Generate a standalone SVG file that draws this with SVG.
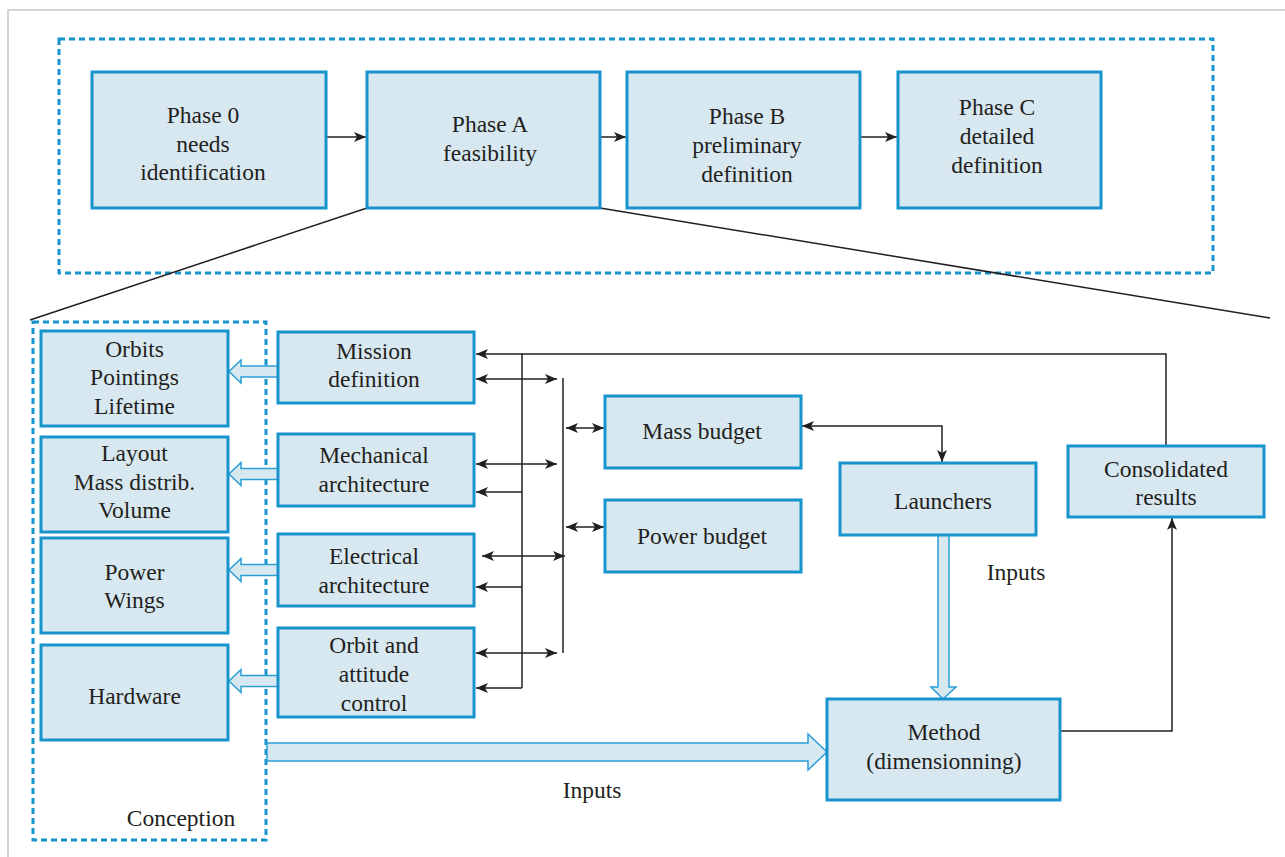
<svg xmlns="http://www.w3.org/2000/svg" width="1285" height="857" viewBox="0 0 1285 857">
<style>
.box{fill:#d8e8f1;stroke:#1794cc;stroke-width:3}
.dash{fill:none;stroke:#1794cc;stroke-width:3;stroke-dasharray:6 4}
.t{font-family:"Liberation Serif",serif;font-size:23.5px;fill:#231f20;text-anchor:middle}
.c{fill:none;stroke:#231f20;stroke-width:1.5}
.ha{fill:#d8e8f1;stroke:#2a9fd6;stroke-width:1.5}
</style>
<defs>
<marker id="ah" viewBox="0 0 12 10" refX="12" refY="5" markerWidth="12" markerHeight="10" markerUnits="userSpaceOnUse" orient="auto-start-reverse">
<path d="M0,0 L12,5 L0,10 L3,5 z" fill="#231f20"/>
</marker>
</defs>
<rect x="8" y="10" width="1290" height="860" fill="#ffffff" stroke="#c8c8c8" stroke-width="1.5"/>
<rect class="dash" x="59" y="39" width="1154" height="234"/>
<rect class="dash" x="33" y="322" width="233" height="518"/>

<g id="connectors">
<line class="c" x1="367" y1="208" x2="30" y2="320"/>
<line class="c" x1="600" y1="208" x2="1270" y2="318"/>
<line class="c" x1="326" y1="137" x2="366" y2="137" marker-end="url(#ah)"/>
<line class="c" x1="600" y1="137" x2="626" y2="137" marker-end="url(#ah)"/>
<line class="c" x1="860" y1="137" x2="897" y2="137" marker-end="url(#ah)"/>
<path class="c" d="M1166,446 V354 H476" marker-end="url(#ah)"/>
<line class="c" x1="522" y1="354" x2="522" y2="688"/>
<line class="c" x1="563" y1="378" x2="563" y2="653"/>
<line class="c" x1="476" y1="379" x2="557" y2="379" marker-start="url(#ah)" marker-end="url(#ah)"/>
<line class="c" x1="476" y1="464" x2="557" y2="464" marker-start="url(#ah)" marker-end="url(#ah)"/>
<line class="c" x1="522" y1="492" x2="476" y2="492" marker-end="url(#ah)"/>
<line class="c" x1="482" y1="556" x2="565" y2="556" marker-start="url(#ah)" marker-end="url(#ah)"/>
<line class="c" x1="522" y1="587" x2="476" y2="587" marker-end="url(#ah)"/>
<line class="c" x1="476" y1="653" x2="557" y2="653" marker-start="url(#ah)" marker-end="url(#ah)"/>
<line class="c" x1="522" y1="688" x2="476" y2="688" marker-end="url(#ah)"/>
<line class="c" x1="566" y1="428" x2="604" y2="428" marker-start="url(#ah)" marker-end="url(#ah)"/>
<line class="c" x1="566" y1="527" x2="604" y2="527" marker-start="url(#ah)" marker-end="url(#ah)"/>
<path class="c" d="M802,426 H942 V462" marker-start="url(#ah)" marker-end="url(#ah)"/>
<path class="c" d="M1061,731 H1172 V518" marker-end="url(#ah)"/>
<polygon class="ha" points="278,366 241,366 241,360 229,371.5 241,383 241,377 278,377"/>
<polygon class="ha" points="278,468.5 241,468.5 241,462.5 229,474 241,485.5 241,479.5 278,479.5"/>
<polygon class="ha" points="278,564.5 241,564.5 241,558.5 229,570 241,581.5 241,575.5 278,575.5"/>
<polygon class="ha" points="278,675.5 241,675.5 241,669.5 229,681 241,692.5 241,686.5 278,686.5"/>
<polygon class="ha" points="267,743 808,743 808,734 827,752 808,770 808,761 267,761"/>
<polygon class="ha" points="938,535 938,687 931,687 943,699 956,687 949,687 949,535"/>
</g>

<g id="phase0"><rect class="box" x="92" y="72" width="234" height="136"/>
<text class="t" x="203" y="123">Phase 0</text><text class="t" x="203" y="152">needs</text><text class="t" x="203" y="180">identification</text></g>
<g id="phaseA"><rect class="box" x="367" y="72" width="233" height="136"/>
<text class="t" x="490" y="132">Phase A</text><text class="t" x="490" y="161">feasibility</text></g>
<g id="phaseB"><rect class="box" x="627" y="72" width="233" height="136"/>
<text class="t" x="747" y="124">Phase B</text><text class="t" x="747" y="153">preliminary</text><text class="t" x="747" y="182">definition</text></g>
<g id="phaseC"><rect class="box" x="898" y="72" width="203" height="136"/>
<text class="t" x="997" y="115">Phase C</text><text class="t" x="997" y="144">detailed</text><text class="t" x="997" y="173">definition</text></g>

<g id="orbits"><rect class="box" x="41" y="331" width="187" height="95"/>
<text class="t" x="134.5" y="357">Orbits</text><text class="t" x="134.5" y="385">Pointings</text><text class="t" x="134.5" y="414">Lifetime</text></g>
<g id="layout"><rect class="box" x="41" y="437" width="187" height="95"/>
<text class="t" x="134.5" y="461">Layout</text><text class="t" x="134.5" y="490">Mass distrib.</text><text class="t" x="134.5" y="518">Volume</text></g>
<g id="power"><rect class="box" x="41" y="538" width="187" height="95"/>
<text class="t" x="134.5" y="580">Power</text><text class="t" x="134.5" y="608">Wings</text></g>
<g id="hardware"><rect class="box" x="41" y="645" width="187" height="95"/>
<text class="t" x="134.5" y="704">Hardware</text></g>
<text class="t" x="181" y="826">Conception</text>

<g id="mission"><rect class="box" x="278" y="332" width="196" height="71"/>
<text class="t" x="374" y="359">Mission</text><text class="t" x="374" y="387">definition</text></g>
<g id="mechanical"><rect class="box" x="278" y="434" width="196" height="72"/>
<text class="t" x="374" y="463">Mechanical</text><text class="t" x="374" y="492">architecture</text></g>
<g id="electrical"><rect class="box" x="278" y="534" width="196" height="72"/>
<text class="t" x="374" y="564">Electrical</text><text class="t" x="374" y="593">architecture</text></g>
<g id="orbitcontrol"><rect class="box" x="278" y="628" width="196" height="89"/>
<text class="t" x="374" y="653">Orbit and</text><text class="t" x="374" y="682">attitude</text><text class="t" x="374" y="711">control</text></g>

<g id="mass"><rect class="box" x="605" y="396" width="196" height="72"/>
<text class="t" x="702" y="439">Mass budget</text></g>
<g id="powerbudget"><rect class="box" x="605" y="500" width="196" height="72"/>
<text class="t" x="702" y="544">Power budget</text></g>
<g id="launchers"><rect class="box" x="840" y="463" width="196" height="72"/>
<text class="t" x="943" y="509">Launchers</text></g>
<g id="consolidated"><rect class="box" x="1068" y="446" width="196" height="71"/>
<text class="t" x="1166" y="477">Consolidated</text><text class="t" x="1166" y="505">results</text></g>
<g id="method"><rect class="box" x="827" y="699" width="233" height="101"/>
<text class="t" x="944" y="740">Method</text><text class="t" x="944" y="769">(dimensionning)</text></g>

<text class="t" x="1016" y="580">Inputs</text>
<text class="t" x="592" y="798">Inputs</text>
</svg>
